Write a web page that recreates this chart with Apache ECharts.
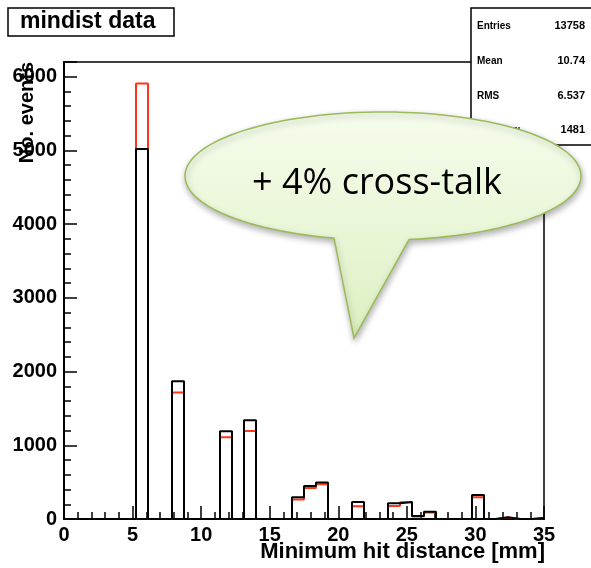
<!DOCTYPE html>
<html>
<head>
<meta charset="utf-8">
<script src="https://cdn.jsdelivr.net/npm/echarts@6/dist/echarts.min.js"></script>
<style>
html,body{margin:0;padding:0;background:#fff;}
#c{width:591px;height:568px;}
</style>
</head>
<body>
<div id="c"></div>
<script>
// ---- data ----
const xRange = [0, 35];
const nBins = 40;
const blackCounts = [0,0,0,0,0,0,5020,0,0,1870,0,0,0,1190,0,1340,0,0,0,295,448,495,0,0,231,0,0,213,232,40,97,0,0,0,326,0,25,0,0,15];
const redCounts   = [0,0,0,0,0,0,5910,0,0,1715,0,0,0,1110,0,1195,0,0,0,265,421,471,0,0,172,0,0,176,228,35,88,0,0,0,295,0,22,0,0,12];
const yRange = [0, 6200];
const statLabels = ['Entries', 'Mean', 'RMS', 'Overflow'];
const statValues = ['13758', '10.74', '6.537', '1481'];
const titleText = 'mindist data';
const xTitle = 'Minimum hit distance [mm]';
const yTitle = 'No. events';
const calloutText = '+ 4% cross-talk';

function stepPoints(counts) {
  const w = (xRange[1] - xRange[0]) / nBins;
  const pts = counts.map((c, i) => [xRange[0] + i * w, c]);
  pts.push([xRange[1], counts[counts.length - 1]]);
  return pts;
}

// callout bubble outline (ellipse arc + tail)
function bubblePoints() {
  const cx = 383, cy = 176, rx = 198, ry = 64;
  const t0 = 1.821, t1 = 2 * Math.PI + 1.439;
  const pts = [];
  const n = 120;
  for (let k = 0; k <= n; k++) {
    const t = t0 + (t1 - t0) * k / n;
    pts.push([cx + rx * Math.cos(t), cy + ry * Math.sin(t)]);
  }
  pts.push([354, 338]);
  return pts;
}

const chart = echarts.init(document.getElementById('c'), null, {renderer: 'canvas'});
const labelFont = {fontFamily: 'Liberation Sans', fontWeight: 'bold', fontSize: 20, color: '#000'};
const blackLine = {color: '#000', width: 1.5};

const statGraphics = [];
statLabels.forEach((s, i) => {
  const y = [26, 61, 96, 130][i];
  statGraphics.push({type: 'text', x: 477, y: y, z: 60,
    style: {text: s, font: 'bold 10px "Liberation Sans"', fill: '#000', align: 'left', verticalAlign: 'middle'}});
  statGraphics.push({type: 'text', x: 585, y: y, z: 60,
    style: {text: statValues[i], font: 'bold 11px "Liberation Sans"', fill: '#000', align: 'right', verticalAlign: 'middle'}});
});

const option = {
  animation: false,
  backgroundColor: '#fff',
  grid: {left: 64, right: 47, top: 62, bottom: 49, show: true, borderColor: '#000', borderWidth: 1.5, backgroundColor: 'transparent'},
  xAxis: [
    {type: 'value', position: 'bottom', min: xRange[0], max: xRange[1], interval: 5,
     axisLine: {show: true, onZero: false, lineStyle: {color: '#000', width: 2}},
     axisTick: {show: true, inside: true, length: 13, lineStyle: blackLine},
     splitLine: {show: false},
     axisLabel: Object.assign({margin: 6, showMinLabel: true, showMaxLabel: true}, labelFont)},
    {type: 'value', position: 'bottom', min: xRange[0], max: xRange[1], interval: 1,
     axisLine: {show: false}, axisTick: {show: true, inside: true, length: 7, lineStyle: blackLine},
     splitLine: {show: false}, axisLabel: {show: false}}
  ],
  yAxis: [
    {type: 'value', position: 'left', min: yRange[0], max: yRange[1], interval: 1000,
     axisLine: {show: true, onZero: false, lineStyle: {color: '#000', width: 2}},
     axisTick: {show: true, inside: true, length: 13, lineStyle: blackLine},
     splitLine: {show: false},
     axisLabel: Object.assign({margin: 7, formatter: v => (v % 1000 === 0 ? String(v) : '')}, labelFont)},
    {type: 'value', position: 'left', min: yRange[0], max: yRange[1], interval: 200,
     axisLine: {show: false}, axisTick: {show: true, inside: true, length: 7, lineStyle: blackLine},
     splitLine: {show: false}, axisLabel: {show: false}}
  ],
  series: [
    {type: 'line', step: 'end', xAxisIndex: 0, yAxisIndex: 0, data: stepPoints(redCounts),
     symbol: 'none', lineStyle: {color: '#ff3418', width: 2}, z: 2, silent: true},
    {type: 'line', step: 'end', xAxisIndex: 0, yAxisIndex: 0, data: stepPoints(blackCounts),
     symbol: 'none', lineStyle: {color: '#000', width: 2}, z: 3, silent: true}
  ],
  graphic: [
    {type: 'rect', z: 50, shape: {x: 8, y: 8, width: 166, height: 28}, style: {fill: '#fff', stroke: '#000', lineWidth: 1.5}},
    {type: 'text', z: 51, x: 20, y: 22, style: {text: titleText, font: 'bold 23px "Liberation Sans"', fill: '#000', align: 'left', verticalAlign: 'middle'}},
    {type: 'rect', z: 55, shape: {x: 471, y: 8, width: 140, height: 137}, style: {fill: '#fff', stroke: '#000', lineWidth: 1.5}},
    ...statGraphics,
    {type: 'text', z: 40, x: 27, y: 62, rotation: Math.PI / 2,
     style: {text: yTitle, font: 'bold 20px "Liberation Sans"', fill: '#000', align: 'right', verticalAlign: 'middle'}},
    {type: 'text', z: 40, x: 545, y: 552,
     style: {text: xTitle, font: 'bold 22px "Liberation Sans"', fill: '#000', align: 'right', verticalAlign: 'middle'}},
    {type: 'polygon', z: 100,
     shape: {points: bubblePoints()},
     style: {
       fill: {type: 'linear', x: 0, y: 0, x2: 0, y2: 1, colorStops: [{offset: 0, color: '#f5fcec'}, {offset: 0.55, color: '#e9f6d6'}, {offset: 1, color: '#dcefc0'}]},
       stroke: '#9bbb59', lineWidth: 1.5,
       shadowBlur: 6, shadowColor: 'rgba(0,0,0,0.3)', shadowOffsetX: 1, shadowOffsetY: 3
     }},
    {type: 'text', z: 101, x: 377, y: 184,
     style: {text: calloutText, font: '36px "Open Sans"', fill: '#000', align: 'center', verticalAlign: 'middle'}}
  ]
};
chart.setOption(option);
</script>
</body>
</html>
